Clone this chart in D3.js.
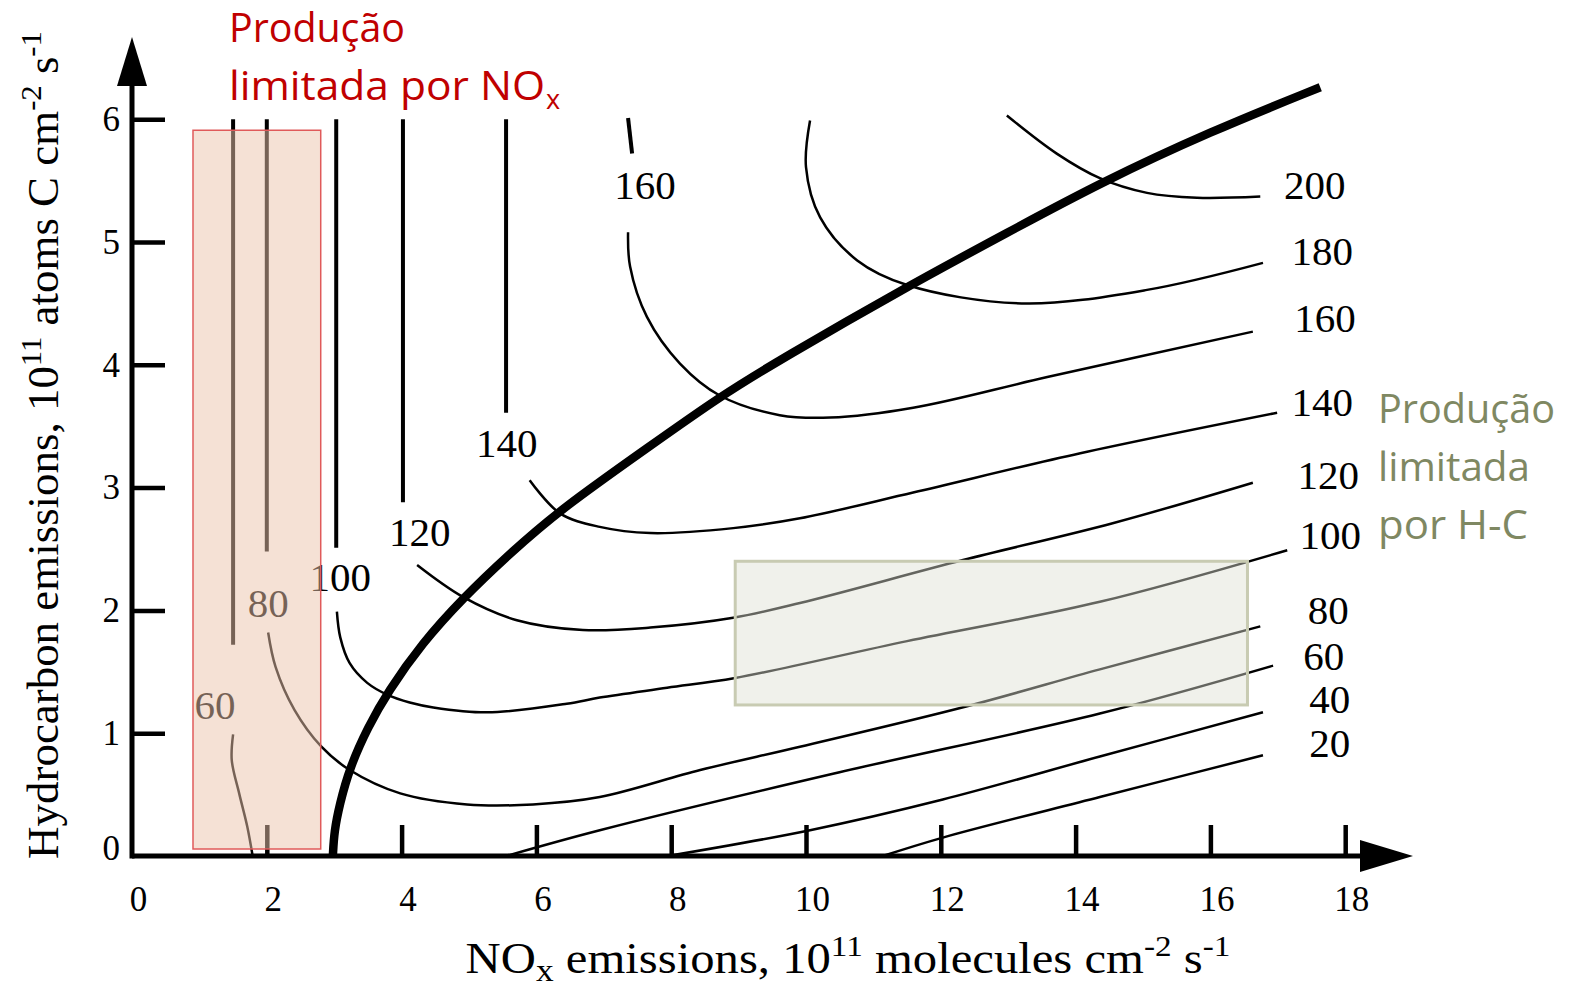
<!DOCTYPE html>
<html>
<head>
<meta charset="utf-8">
<script src="https://cdn.jsdelivr.net/npm/d3@7/dist/d3.min.js"></script>
<style>
  html, body { margin: 0; padding: 0; background: #ffffff; }
  svg { display: block; }
</style>
</head>
<body>
<svg id="chart" width="1573" height="989"></svg>
<script>
// ---------------- DATA ----------------
const xTicks = [0, 2, 4, 6, 8, 10, 12, 14, 16, 18];
const yTicks = [0, 1, 2, 3, 4, 5, 6];

// ozone isopleths (ppb), each a list of segments of [NOx, HC] points
const c20  = [[[11.14,0],[12.03,0.15],[14.36,0.48],[16.78,0.82]]];
const c40  = [[[7.95,0],[10.06,0.21],[12.03,0.46],[14.36,0.81],[16.78,1.17]]];
const c60  = [
  [[1.50,6.0],[1.50,1.72]],
  [[1.50,0.99],[1.48,0.78],[1.59,0.51],[1.71,0.24],[1.79,0]],
  [[5.55,0],[6.94,0.21],[10.4,0.67],[14.36,1.16],[16.93,1.55]]
];
const c80  = [
  [[2.0,6.0],[2.0,2.48]],
  [[2.02,1.82],[2.13,1.54],[2.41,1.19],[2.81,0.89],[3.23,0.70],[3.98,0.51],[4.97,0.42],[5.95,0.42],[6.94,0.48],[8.43,0.70],[9.91,0.89],[12.39,1.22],[14.36,1.52],[16.74,1.87]]
];
const c100 = [
  [[3.03,6.0],[3.03,2.51]],
  [[3.04,1.99],[3.09,1.78],[3.23,1.57],[3.49,1.41],[3.80,1.31],[4.12,1.25],[4.47,1.21],[5.27,1.17],[6.45,1.24],[6.94,1.29],[7.94,1.37],[8.95,1.45],[11.5,1.75],[14.36,2.07],[17.14,2.49]]
];
const c120 = [
  [[4.02,6.0],[4.02,2.88]],
  [[4.23,2.37],[4.91,2.11],[5.71,1.92],[6.69,1.84],[7.69,1.86],[8.92,1.94],[9.91,2.06],[12.33,2.41],[14.55,2.71],[16.63,3.04]]
];
const c140 = [
  [[5.55,6.0],[5.55,3.61]],
  [[5.9,3.06],[6.35,2.79],[6.94,2.68],[7.69,2.63],[8.92,2.67],[9.91,2.75],[11.59,2.96],[14.07,3.28],[16.99,3.61]]
];
const c160 = [
  [[7.36,6.01],[7.42,5.72]],
  [[7.36,5.08],[7.39,4.80],[7.64,4.39],[8.13,4.01],[8.72,3.75],[9.61,3.59],[10.36,3.57],[11.59,3.65],[13.58,3.90],[16.63,4.27]]
];
const c180 = [[[10.06,5.99],[10.0,5.61],[10.21,5.20],[10.76,4.85],[11.5,4.65],[13.2,4.50],[15.06,4.61],[16.78,4.83]]];
const c200 = [[[12.98,6.03],[13.72,5.72],[14.36,5.52],[15.06,5.40],[15.8,5.36],[16.74,5.37]]];

// ridge line separating NOx-limited and HC-limited regimes
const ridge = [[2.98,0],[3.0,0.2],[3.08,0.42],[3.23,0.72],[3.5,1.05],[3.80,1.34],[4.3,1.73],[4.91,2.10],[5.6,2.46],[6.35,2.82],[7.69,3.34],[8.72,3.74],[9.61,4.04],[11.51,4.64],[13.0,5.08],[14.36,5.48],[16.0,5.90],[17.63,6.26]];

// isopleth labels: [NOx, HC, text]
const rightLabels = [[17.55,5.46,"200"],[17.66,4.93,"180"],[17.70,4.38,"160"],[17.66,3.70,"140"],[17.75,3.10,"120"],[17.78,2.61,"100"],[17.75,2.00,"80"],[17.68,1.63,"60"],[17.77,1.28,"40"],[17.77,0.92,"20"]];
const innerLabels = [[7.61,5.46,"160"],[5.56,3.36,"140"],[4.27,2.64,"120"],[3.09,2.27,"100"],[2.02,2.06,"80"],[1.23,1.23,"60"]];

// highlighted regions: [x0, x1, y0, y1] in data units
const noxRegion = [0.905, 2.80, 0.057, 5.91];
const hcRegion  = [8.95, 16.55, 1.23, 2.40];

// ---------------- DRAWING ----------------
const svg = d3.select("#chart");
const xs = d3.scaleLinear().domain([0, 18]).range([132, 1345.2]);
const ys = d3.scaleLinear().domain([0, 6]).range([856, 119.2]);
const serif = "'Liberation Serif', 'DejaVu Serif', serif";
const sans = "'Open Sans', 'Lato', sans-serif";

const line = d3.line().x(d => xs(d[0])).y(d => ys(d[1])).curve(d3.curveCatmullRom.alpha(0.5));
const ridgeLine = d3.line().x(d => xs(d[0])).y(d => ys(d[1])).curve(d3.curveBasis);

const contours = [c20, c40, c60, c80, c100, c120, c140, c160, c180, c200];
const gC = svg.append("g").attr("fill", "none").attr("stroke", "#000");
contours.forEach(c => {
  c.forEach(seg => {
    const vertical = seg.length === 2 && Math.abs(seg[0][0] - seg[1][0]) < 0.1;
    gC.append("path")
      .attr("d", line(seg))
      .attr("stroke-width", vertical ? 4 : 2.5)
      .attr("stroke-linecap", "butt");
  });
});

// ridge
svg.append("path").attr("d", ridgeLine(ridge)).attr("fill", "none")
  .attr("stroke", "#000").attr("stroke-width", 8.5).attr("stroke-linecap", "butt");

// axes (D3 axes for ticks / labels)
const xAxis = d3.axisBottom(xs).tickValues(xTicks).tickSize(-31).tickPadding(30).tickFormat(d3.format("d"));
const gx = svg.append("g").attr("transform", `translate(0,${ys(0)})`).call(xAxis);
gx.select(".domain").remove();
gx.selectAll(".tick line").attr("stroke", "#000").attr("stroke-width", 4.5)
  .attr("display", d => d === 0 ? "none" : null);
gx.selectAll(".tick text").attr("font-family", serif).attr("font-size", 35)
  .attr("fill", "#000").attr("dx", 6);

const yAxis = d3.axisLeft(ys).tickValues(yTicks).tickSize(-33).tickPadding(12).tickFormat(d3.format("d"));
const gy = svg.append("g").attr("transform", `translate(${xs(0)},0)`).call(yAxis);
gy.select(".domain").remove();
gy.selectAll(".tick line").attr("stroke", "#000").attr("stroke-width", 4.5)
  .attr("display", d => d === 0 ? "none" : null);
gy.selectAll(".tick text").attr("font-family", serif).attr("font-size", 35)
  .attr("fill", "#000").attr("dy", d => d === 0 ? "0.1em" : "0.32em");

// axis lines with arrows
svg.append("line").attr("x1", xs(0)).attr("x2", 1370).attr("y1", ys(0)).attr("y2", ys(0))
  .attr("stroke", "#000").attr("stroke-width", 5);
svg.append("line").attr("x1", xs(0)).attr("x2", xs(0)).attr("y1", ys(0) + 2.5).attr("y2", 70)
  .attr("stroke", "#000").attr("stroke-width", 5);
svg.append("path").attr("d", `M1360,840 L1413,${ys(0)} L1360,872 Z`).attr("fill", "#000");
svg.append("path").attr("d", `M${xs(0) - 15},86 L${xs(0)},37 L${xs(0) + 15},86 Z`).attr("fill", "#000");

// isopleth labels
const lab = svg.append("g").attr("font-family", serif).attr("font-size", 41).attr("fill", "#000")
  .attr("text-anchor", "middle");
rightLabels.concat(innerLabels).forEach(d => {
  lab.append("text").attr("x", xs(d[0])).attr("y", ys(d[1])).attr("dy", "0.34em").text(d[2]);
});

// helper: stretch a text horizontally to a target width around its anchor
function fitX(sel, cx, cy, targetW, rotate) {
  const w = sel.node().getComputedTextLength();
  const s = targetW / w;
  sel.attr("x", 0).attr("y", 0)
     .attr("transform", `translate(${cx},${cy})${rotate ? " rotate(-90)" : ""} scale(${s},1)`);
}

// axis titles
const xt = svg.append("text").attr("text-anchor", "middle")
  .attr("font-family", serif).attr("font-size", 44).attr("fill", "#000");
xt.append("tspan").text("NO");
xt.append("tspan").attr("font-size", 32).attr("dy", 8).text("x");
xt.append("tspan").attr("dy", -8).text(" emissions, 10");
xt.append("tspan").attr("font-size", 30).attr("dy", -17).text("11");
xt.append("tspan").attr("dy", 17).text(" molecules cm");
xt.append("tspan").attr("font-size", 30).attr("dy", -17).text("-2");
xt.append("tspan").attr("dy", 17).text(" s");
xt.append("tspan").attr("font-size", 30).attr("dy", -17).text("-1");
fitX(xt, 848, 973, 765, false);

const yt = svg.append("text")
  .attr("text-anchor", "middle").attr("font-family", serif).attr("font-size", 44).attr("fill", "#000");
yt.append("tspan").text("Hydrocarbon emissions, 10");
yt.append("tspan").attr("font-size", 30).attr("dy", -17).text("11");
yt.append("tspan").attr("dy", 17).text(" atoms C cm");
yt.append("tspan").attr("font-size", 30).attr("dy", -17).text("-2");
yt.append("tspan").attr("dy", 17).text(" s");
yt.append("tspan").attr("font-size", 30).attr("dy", -17).text("-1");
fitX(yt, 58, 445, 828, true);

// highlight overlays
svg.append("rect")
  .attr("x", xs(noxRegion[0])).attr("y", ys(noxRegion[3]))
  .attr("width", xs(noxRegion[1]) - xs(noxRegion[0])).attr("height", ys(noxRegion[2]) - ys(noxRegion[3]))
  .attr("fill", "rgb(236,196,172)").attr("fill-opacity", 0.5)
  .attr("stroke", "rgb(224,90,90)").attr("stroke-width", 1.5);
svg.append("rect")
  .attr("x", xs(hcRegion[0])).attr("y", ys(hcRegion[3]))
  .attr("width", xs(hcRegion[1]) - xs(hcRegion[0])).attr("height", ys(hcRegion[2]) - ys(hcRegion[3]))
  .attr("fill", "rgb(222,225,210)").attr("fill-opacity", 0.45)
  .attr("stroke", "rgb(200,203,178)").attr("stroke-width", 3);

// annotations
function fitText(x, y, txt, size, color, targetW) {
  return svg.append("text").attr("x", x).attr("y", y).attr("font-family", sans)
    .attr("font-size", size).attr("fill", color).attr("textLength", targetW)
    .attr("lengthAdjust", "spacingAndGlyphs").text(txt);
}
const red = "#c00000";
fitText(229, 42, "Produção", 40, red, 176);
fitText(229, 100, "limitada por NO", 40, red, 316);
svg.append("text").attr("x", 546).attr("y", 109).attr("font-family", sans)
  .attr("font-size", 27).attr("fill", red).text("x");

const green = "#7f8862";
const greenLines = [["Produção", 177], ["limitada", 152], ["por H-C", 150]];
greenLines.forEach((t, i) => fitText(1378, 423 + i * 58, t[0], 40, green, t[1]));
</script>
</body>
</html>
